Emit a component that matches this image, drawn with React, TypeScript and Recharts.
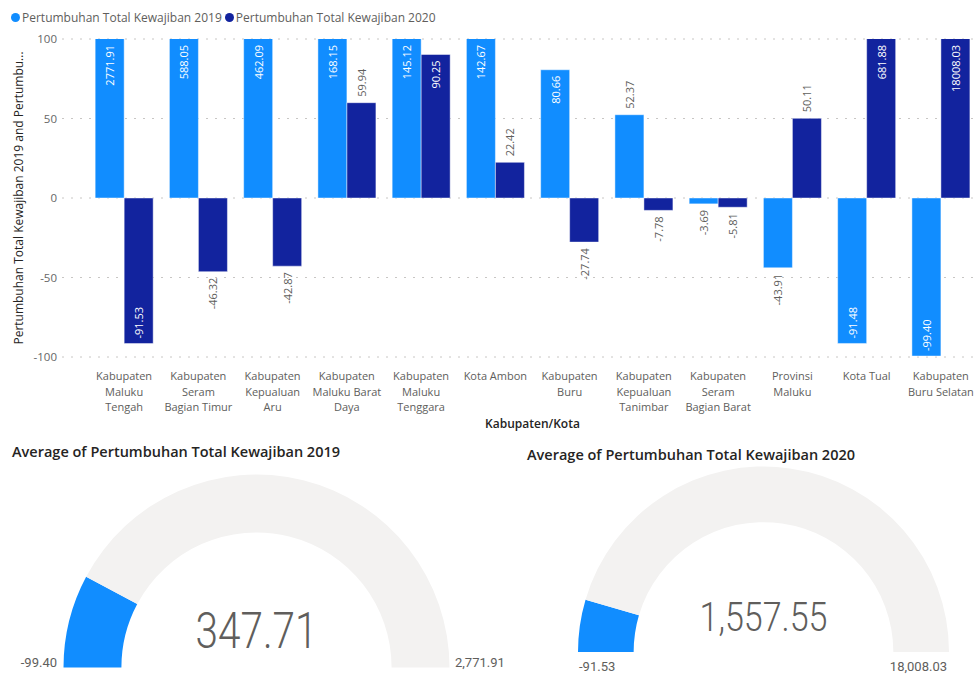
import React from 'react';
import { BarChart, Bar, XAxis, YAxis, CartesianGrid, Legend, LabelList, PieChart, Pie, Cell } from 'recharts';

const categories = [
  'Kabupaten Maluku Tengah',
  'Kabupaten Seram Bagian Timur',
  'Kabupaten Kepualuan Aru',
  'Kabupaten Maluku Barat Daya',
  'Kabupaten Maluku Tenggara',
  'Kota Ambon',
  'Kabupaten Buru',
  'Kabupaten Kepualuan Tanimbar',
  'Kabupaten Seram Bagian Barat',
  'Provinsi Maluku',
  'Kota Tual',
  'Kabupaten Buru Selatan',
];

const tickLabelLines = [
  ['Kabupaten', 'Maluku', 'Tengah'],
  ['Kabupaten', 'Seram', 'Bagian Timur'],
  ['Kabupaten', 'Kepualuan', 'Aru'],
  ['Kabupaten', 'Maluku Barat', 'Daya'],
  ['Kabupaten', 'Maluku', 'Tenggara'],
  ['Kota Ambon'],
  ['Kabupaten', 'Buru'],
  ['Kabupaten', 'Kepualuan', 'Tanimbar'],
  ['Kabupaten', 'Seram', 'Bagian Barat'],
  ['Provinsi', 'Maluku'],
  ['Kota Tual'],
  ['Kabupaten', 'Buru Selatan'],
];

const growth2019 = [2771.91, 588.05, 462.09, 168.15, 145.12, 142.67, 80.66, 52.37, -3.69, -43.91, -91.48, -99.4];
const growth2020 = [-91.53, -46.32, -42.87, 59.94, 90.25, 22.42, -27.74, -7.78, -5.81, 50.11, 681.88, 18008.03];

const yTicks = [-100, -50, 0, 50, 100];
const yDomain = [-100, 100];

const seriesNames = ['Pertumbuhan Total Kewajiban 2019', 'Pertumbuhan Total Kewajiban 2020'];
const seriesColors = ['#118DFF', '#12239E'];

const data = categories.map((name, i) => ({ name, v2019: growth2019[i], v2020: growth2020[i] }));

const FONT = '"Open Sans", "Noto Sans", sans-serif';
const GAUGE_FONT = 'Roboto, "Noto Sans", sans-serif';
const GRAY = '#605E5C';
const DARK = '#252423';

const PLOT_TOP = 39;
const PLOT_BOTTOM = 357;
const X_PAD_LEFT = 25;

const fmt2 = (v: number) => v.toLocaleString('en-US', { minimumFractionDigits: 2, maximumFractionDigits: 2 });
const avg = (a: number[]) => a.reduce((s, v) => s + v, 0) / a.length;

const renderBarLabel = (props: any) => {
  const vb = props.viewBox && props.viewBox.width !== undefined ? props.viewBox : props;
  const { x, y, width, height } = vb;
  const value = Number(props.value);
  const top = Math.max(PLOT_TOP, Math.min(y, y + height));
  const bottom = Math.min(PLOT_BOTTOM, Math.max(y, y + height));
  const cx = x + width / 2;
  const text = value.toFixed(2);
  const textLen = text.length * 6;
  let ay: number;
  let anchor: 'start' | 'end';
  let fill: string;
  if (value >= 0) {
    const space = top - PLOT_TOP;
    if (space >= textLen + 10) {
      ay = top - 6; anchor = 'start'; fill = GRAY;
    } else {
      ay = top + 6; anchor = 'end'; fill = '#FFFFFF';
    }
  } else {
    const space = PLOT_BOTTOM - bottom;
    if (space >= textLen + 10) {
      ay = bottom + 6; anchor = 'end'; fill = GRAY;
    } else {
      ay = bottom - 5; anchor = 'start'; fill = '#FFFFFF';
    }
  }
  return (
    <text
      x={cx}
      y={ay}
      transform={`rotate(-90 ${cx} ${ay})`}
      textAnchor={anchor}
      dominantBaseline="central"
      fontSize={11}
      fontFamily={FONT}
      fill={fill}
    >
      {text}
    </text>
  );
};

const renderXTick = (props: any) => {
  const { x, y, payload } = props;
  const idx = categories.indexOf(payload.value);
  const lines = tickLabelLines[idx] || [String(payload.value)];
  return (
    <text x={x} y={y} textAnchor="middle" fill={GRAY} fontSize={11} fontFamily={FONT}>
      {lines.map((l, i) => (
        <tspan key={i} x={x} dy={i === 0 ? 23 : 15.5}>
          {l}
        </tspan>
      ))}
    </text>
  );
};

const renderLegend = (props: any) => {
  const payload = props.payload || [];
  return (
    <div style={{ display: 'flex', alignItems: 'center', height: 22, fontFamily: FONT, fontSize: 12, color: GRAY }}>
      {payload.map((p: any, i: number) => (
        <div key={i} style={{ display: 'flex', alignItems: 'center', marginRight: 3 }}>
          <span
            style={{ width: 9, height: 9, borderRadius: '50%', background: p.color, display: 'inline-block', marginRight: 2 }}
          />
          <span>{p.value}</span>
        </div>
      ))}
    </div>
  );
};

const YTitle = (props: any) => {
  const vb = props.viewBox || { x: 0, y: PLOT_TOP, width: 62, height: PLOT_BOTTOM - PLOT_TOP };
  const cx = vb.x + 18;
  const cy = vb.y + vb.height / 2;
  return (
    <text
      x={cx}
      y={cy}
      transform={`rotate(-90 ${cx} ${cy})`}
      textAnchor="middle"
      dominantBaseline="central"
      fontSize={12}
      fontFamily={FONT}
      fill={DARK}
    >
      Pertumbuhan Total Kewajiban 2019 and Pertumbu...
    </text>
  );
};

const XTitle = (props: any) => {
  const vb = props.viewBox || { x: 62, y: PLOT_BOTTOM, width: 916, height: 83 };
  const cx = vb.x + X_PAD_LEFT + (vb.width - X_PAD_LEFT) / 2;
  return (
    <text x={cx} y={vb.y + 71} textAnchor="middle" fontSize={12} fontWeight={600} fontFamily={FONT} fill={DARK}>
      Kabupaten/Kota
    </text>
  );
};

type GaugeProps = {
  title: string;
  values: number[];
  left: number;
  width: number;
  cx: number;
  cy: number;
  outer: number;
  titleX: number;
  titleY: number;
  valueY: number;
  valueSize: number;
  valueLen: number;
  minX: number;
  minAnchor: 'start' | 'end';
  maxX: number;
  maxAnchor: 'start' | 'end';
  rangeY: number;
};

const Gauge = (g: GaugeProps) => {
  const min = Math.min(...g.values);
  const max = Math.max(...g.values);
  const mean = avg(g.values);
  const gaugeData = [
    { name: 'value', amount: mean - min },
    { name: 'rest', amount: max - mean },
  ];
  const H = 235;
  return (
    <div style={{ position: 'absolute', left: g.left, top: 440, width: g.width, height: H }}>
      <PieChart width={g.width} height={H} margin={{ top: 0, right: 0, bottom: 0, left: 0 }}>
        <Pie
          data={gaugeData}
          dataKey="amount"
          cx={g.cx}
          cy={g.cy}
          startAngle={180}
          endAngle={0}
          innerRadius={g.outer * 0.7}
          outerRadius={g.outer}
          stroke="none"
          isAnimationActive={false}
        >
          <Cell fill="#118DFF" />
          <Cell fill="#F3F2F1" />
        </Pie>
      </PieChart>
      <svg
        width={g.width}
        height={H}
        overflow="visible"
        style={{ position: 'absolute', left: 0, top: 0, pointerEvents: 'none', overflow: 'visible' }}
      >
        <text x={g.titleX} y={g.titleY} fontSize={14.5} fontWeight={600} fontFamily={FONT} fill={DARK}>
          {g.title}
        </text>
        <text
          x={g.cx}
          y={g.valueY}
          textAnchor="middle"
          fontSize={g.valueSize}
          fontWeight={300}
          fontFamily={GAUGE_FONT}
          fill={GRAY}
          textLength={g.valueLen}
          lengthAdjust="spacingAndGlyphs"
        >
          {fmt2(mean)}
        </text>
        <text x={g.minX} y={g.rangeY} textAnchor={g.minAnchor} fontSize={13} fontFamily={GAUGE_FONT} fill={GRAY}>
          {fmt2(min)}
        </text>
        <text x={g.maxX} y={g.rangeY} textAnchor={g.maxAnchor} fontSize={13} fontFamily={GAUGE_FONT} fill={GRAY}>
          {fmt2(max)}
        </text>
      </svg>
    </div>
  );
};

export default function App() {
  return (
    <div style={{ position: 'absolute', left: 0, top: 0, width: 979, height: 675, background: '#fff', overflow: 'hidden' }}>
      <div style={{ position: 'absolute', left: 0, top: 0 }}>
        <BarChart
          width={979}
          height={440}
          data={data}
          margin={{ top: 17, right: 1, bottom: 0, left: 0 }}
          barCategoryGap="11%"
          barGap={0}
        >
          <Legend
            verticalAlign="top"
            align="left"
            content={renderLegend}
            wrapperStyle={{ top: 6, left: 11 }}
          />
          <CartesianGrid vertical={false} stroke="#C8C6C4" strokeDasharray="2 7" />
          <XAxis
            dataKey="name"
            height={83}
            padding={{ left: X_PAD_LEFT, right: 0 }}
            axisLine={false}
            tickLine={false}
            tickSize={0}
            tickMargin={0}
            interval={0}
            tick={renderXTick}
            label={<XTitle />}
          />
          <YAxis
            width={62}
            domain={yDomain}
            ticks={yTicks}
            allowDataOverflow
            axisLine={false}
            tickLine={false}
            tickSize={0}
            tickMargin={5}
            tick={{ fill: '#666666', fontSize: 11.5, fontFamily: FONT }}
            label={<YTitle />}
          />
          <Bar dataKey="v2019" name={seriesNames[0]} fill={seriesColors[0]} stroke="#ffffff" strokeOpacity={0.45} isAnimationActive={false}>
            <LabelList dataKey="v2019" content={renderBarLabel} />
          </Bar>
          <Bar dataKey="v2020" name={seriesNames[1]} fill={seriesColors[1]} stroke="#ffffff" strokeOpacity={0.45} isAnimationActive={false}>
            <LabelList dataKey="v2020" content={renderBarLabel} />
          </Bar>
        </BarChart>
      </div>
      <Gauge
        title="Average of Pertumbuhan Total Kewajiban 2019"
        values={growth2019}
        left={0}
        width={490}
        cx={256.5}
        cy={227.5}
        outer={193}
        titleX={12}
        titleY={17}
        valueY={208}
        valueSize={50}
        valueLen={122}
        minX={57}
        minAnchor="end"
        maxX={455}
        maxAnchor="start"
        rangeY={227}
      />
      <Gauge
        title="Average of Pertumbuhan Total Kewajiban 2020"
        values={growth2020}
        left={490}
        width={489}
        cx={273.5}
        cy={212}
        outer={185.5}
        titleX={37}
        titleY={20}
        valueY={191}
        valueSize={40}
        valueLen={128}
        minX={89}
        minAnchor="start"
        maxX={457}
        maxAnchor="end"
        rangeY={231}
      />
    </div>
  );
}
